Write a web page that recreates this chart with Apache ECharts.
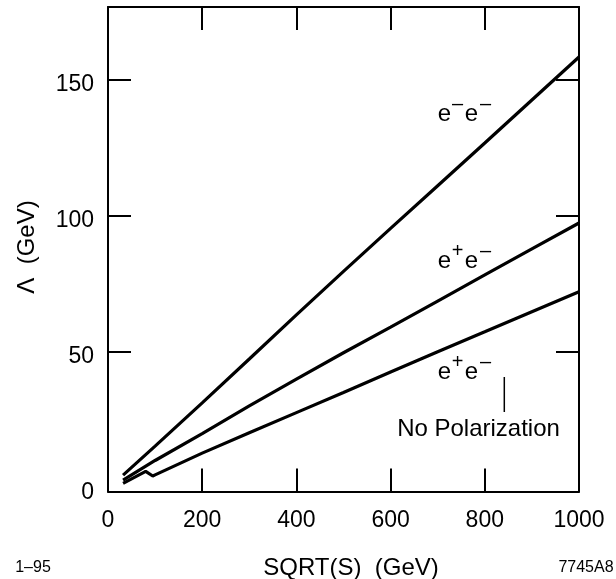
<!DOCTYPE html>
<html>
<head>
<meta charset="utf-8">
<script src="https://cdn.jsdelivr.net/npm/echarts@6/dist/echarts.min.js"></script>
<style>
html,body{margin:0;padding:0;background:#fff;}
#chart{width:616px;height:579px;}
</style>
</head>
<body>
<div id="chart"></div>
<script>
// ---- data ----
const sqrtS_ee = [32, 100, 200, 300, 400, 500, 600, 700, 800, 900, 1000];
const lambda_ee = [4.6, 15.3, 31.2, 47.3, 63.5, 79.5, 95.3, 111, 126.7, 142.5, 158.3];

const sqrtS_pe = [32, 100, 200, 300, 400, 500, 600, 700, 800, 900, 1000];
const lambda_pe = [2.8, 10, 19.9, 30.1, 39.9, 49.6, 59, 68.6, 78.2, 87.8, 97.3];

const sqrtS_unpol = [32, 80, 95, 100, 200, 300, 400, 500, 600, 700, 800, 900, 1000];
const lambda_unpol = [1.6, 6, 4.3, 4.7, 12.7, 20.2, 27.6, 35, 42.5, 50, 57.3, 64.7, 72];

const yTickLabels = [0, 50, 100, 150];
const yTicks = [50, 100, 150];

const FONT = '"Liberation Sans", Arial, Helvetica, sans-serif';

function pairs(xs, ys) { return xs.map((x, i) => [x, ys[i]]); }

function glyph(ch, x, y, size) {
  return {
    type: 'text', x: x, y: y, silent: true,
    style: { text: ch, fill: '#000', font: size + 'px ' + FONT, textAlign: 'center', textVerticalAlign: 'middle' }
  };
}
function supLabel(x0, yc, sup1, sup2) {
  return [
    glyph('e', x0, yc, 24),
    glyph(sup1, x0 + 13, yc - 10, 20),
    glyph('e', x0 + 27, yc, 24),
    glyph(sup2, x0 + 41, yc - 10, 20)
  ];
}

const chart = echarts.init(document.getElementById('chart'));

const axisLineStyle = { color: '#000', width: 2 };
const tickCommon = { show: true, inside: true, length: 23, lineStyle: { color: '#000', width: 2 } };

chart.setOption({
  animation: false,
  backgroundColor: '#fff',
  grid: { left: 108, right: 37, top: 7, bottom: 87.5, containLabel: false },
  xAxis: [
    {
      type: 'value', position: 'bottom', min: 0, max: 1000, interval: 200,
      axisLine: { show: true, onZero: false, lineStyle: axisLineStyle },
      axisTick: tickCommon,
      axisLabel: { show: true, color: '#000', fontSize: 23, fontFamily: FONT, margin: 18,
                   formatter: v => String(v) },
      splitLine: { show: false }
    },
    {
      type: 'value', position: 'top', min: 0, max: 1000, interval: 200,
      axisLine: { show: true, onZero: false, lineStyle: axisLineStyle },
      axisTick: tickCommon,
      axisLabel: { show: false },
      splitLine: { show: false }
    }
  ],
  yAxis: [
    {
      type: 'value', position: 'left', min: -1.4, max: 176.7,
      axisLine: { show: true, onZero: false, lineStyle: axisLineStyle },
      axisTick: Object.assign({}, tickCommon, { customValues: yTicks }),
      axisLabel: { show: true, color: '#000', fontSize: 23, fontFamily: FONT, margin: 14,
                   customValues: yTickLabels,
                   formatter: v => '{n|' + v + '}',
                   rich: { n: { fontSize: 23, fontFamily: FONT, color: '#000', padding: [10, 0, 0, 0] } } },
      splitLine: { show: false }
    },
    {
      type: 'value', position: 'right', min: -1.4, max: 176.7,
      axisLine: { show: true, onZero: false, lineStyle: axisLineStyle },
      axisTick: Object.assign({}, tickCommon, { customValues: yTicks }),
      axisLabel: { show: false },
      splitLine: { show: false }
    }
  ],
  series: [
    { name: 'e-e-', type: 'line', data: pairs(sqrtS_ee, lambda_ee), showSymbol: false,
      lineStyle: { color: '#000', width: 3.2 }, xAxisIndex: 0, yAxisIndex: 0 },
    { name: 'e+e-', type: 'line', data: pairs(sqrtS_pe, lambda_pe), showSymbol: false,
      lineStyle: { color: '#000', width: 3.2 }, xAxisIndex: 0, yAxisIndex: 0 },
    { name: 'e+e- no pol', type: 'line', data: pairs(sqrtS_unpol, lambda_unpol), showSymbol: false,
      lineStyle: { color: '#000', width: 3.2 }, xAxisIndex: 0, yAxisIndex: 0 }
  ],
  graphic: [].concat(
    supLabel(444.5, 114.5, '\u2013', '\u2013'),
    supLabel(444.5, 261.5, '+', '\u2013'),
    supLabel(444.5, 372.5, '+', '\u2013'),
    [
      { type: 'line', silent: true, shape: { x1: 504.3, y1: 377, x2: 504.3, y2: 412 },
        style: { stroke: '#000', lineWidth: 1.5 } },
      { type: 'text', x: 478.5, y: 429, silent: true,
        style: { text: 'No Polarization', fill: '#000', font: '24px ' + FONT, textAlign: 'center', textVerticalAlign: 'middle' } },
      { type: 'text', x: 351, y: 568, silent: true,
        style: { text: 'SQRT(S)  (GeV)', fill: '#000', font: '24px ' + FONT, textAlign: 'center', textVerticalAlign: 'middle' } },
      { type: 'text', x: 33, y: 568, silent: true,
        style: { text: '1\u201395', fill: '#000', font: '16px ' + FONT, textAlign: 'center', textVerticalAlign: 'middle' } },
      { type: 'text', x: 586, y: 568, silent: true,
        style: { text: '7745A8', fill: '#000', font: '16px ' + FONT, textAlign: 'center', textVerticalAlign: 'middle' } },
      { type: 'text', x: 27, y: 247, rotation: Math.PI / 2, silent: true,
        style: { text: '\u039B  (GeV)', fill: '#000', font: '24px ' + FONT, textAlign: 'center', textVerticalAlign: 'middle' } }
    ]
  )
});
</script>
</body>
</html>
